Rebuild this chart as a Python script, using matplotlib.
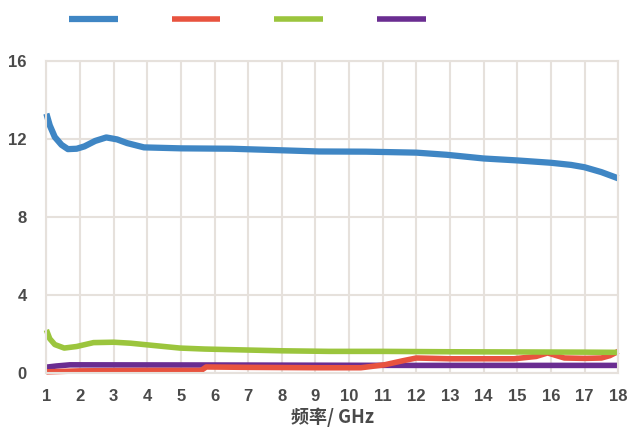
import matplotlib
matplotlib.use("Agg")
import matplotlib.pyplot as plt

plt.rcParams['font.family'] = ['Noto Sans CJK SC', 'DejaVu Sans']

# series (x in GHz)
blue_x = [1.0, 1.1, 1.25, 1.45, 1.64, 1.9, 2.13, 2.45, 2.78, 3.1, 3.4, 3.9, 5.0, 6.5, 8.0, 9.1, 10.5, 12.0, 12.9, 14.0, 15.0, 16.0, 16.6, 17.0, 17.5, 18.0]
blue_y = [13.3, 12.7, 12.1, 11.7, 11.48, 11.5, 11.62, 11.9, 12.08, 11.98, 11.79, 11.57, 11.52, 11.5, 11.42, 11.36, 11.35, 11.3, 11.19, 11.0, 10.9, 10.78, 10.67, 10.55, 10.3, 9.98]

green_x = [1.0, 1.1, 1.25, 1.53, 1.9, 2.4, 3.0, 3.5, 4.2, 4.97, 5.7, 6.44, 8.0, 9.4, 11.0, 13.0, 15.0, 17.0, 18.0]
green_y = [2.2, 1.75, 1.45, 1.27, 1.35, 1.55, 1.57, 1.52, 1.4, 1.27, 1.22, 1.19, 1.13, 1.1, 1.1, 1.08, 1.07, 1.06, 1.05]

red_x = [1.0, 2.0, 4.0, 5.6, 5.75, 7.0, 9.1, 10.35, 11.05, 11.6, 12.0, 13.0, 14.9, 15.56, 15.9, 16.4, 17.0, 17.5, 17.75, 18.0]
red_y = [0.05, 0.1, 0.12, 0.12, 0.3, 0.28, 0.26, 0.26, 0.41, 0.62, 0.76, 0.72, 0.72, 0.84, 1.02, 0.76, 0.74, 0.76, 0.88, 1.1]

purple_x = [1.0, 1.3, 1.7, 6.0, 12.0, 18.0]
purple_y = [0.29, 0.35, 0.41, 0.4, 0.38, 0.38]

x_ticks = list(range(1, 19))
y_ticks = [0, 4, 8, 12, 16]

fig = plt.figure(figsize=(6.27, 4.30), dpi=100)
ax = fig.add_axes([0.074, 0.133, 0.912, 0.725])

l4, = ax.plot(purple_x, purple_y, color='#6a2d91', lw=4, solid_capstyle='butt', clip_on=False)
l2, = ax.plot(red_x, red_y, color='#e8533f', lw=4, solid_capstyle='butt', clip_on=False)
l3, = ax.plot(green_x, green_y, color='#9bc53d', lw=4, solid_capstyle='butt', clip_on=False)
l1, = ax.plot(blue_x, blue_y, color='#3f86c4', lw=4.5, solid_capstyle='butt',
              solid_joinstyle='round', clip_on=False)

ax.set_xlim(1, 18)
ax.set_ylim(0, 16)
ax.set_xticks(x_ticks)
ax.set_yticks(y_ticks)
ax.grid(True, color='#e6e1dc', lw=1.5)
ax.set_axisbelow(True)
for s in ax.spines.values():
    s.set_color('#e6e1dc')
    s.set_linewidth(1.5)
ax.tick_params(axis='x', length=0, pad=12, labelsize=12, labelcolor='#4a4a4a')
ax.tick_params(axis='y', length=0, pad=14, labelsize=12, labelcolor='#4a4a4a')
for lab in ax.get_xticklabels() + ax.get_yticklabels():
    lab.set_family(['Liberation Sans Narrow', 'Liberation Sans', 'DejaVu Sans'])
    lab.set_fontweight('bold')
ax.set_xlabel('频率/ GHz', fontsize=13, fontweight='bold', color='#4a4a4a', labelpad=2)

fig.legend([l1, l2, l3, l4], ['', '', '', ''], ncol=4, loc='upper left',
           bbox_to_anchor=(0.09, 1.0), frameon=False, handlelength=3.5,
           columnspacing=3.6, handletextpad=0.3, fontsize=10)

fig.savefig('out.png', dpi=100)
